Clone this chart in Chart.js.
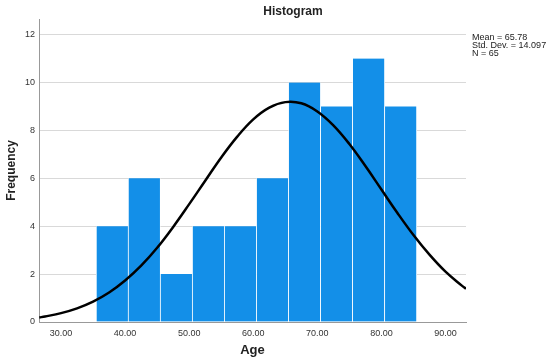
<!DOCTYPE html>
<html>
<head>
<meta charset="utf-8">
<script src="https://cdn.jsdelivr.net/npm/chart.js@4/dist/chart.umd.min.js"></script>
<style>
  html, body { margin: 0; padding: 0; background: #fff; }
  #wrap { width: 550px; height: 362px; }
</style>
</head>
<body>
<div id="wrap"><canvas id="hist"></canvas></div>
<script>
// bin centres (bins of width 5, from 35.5 to 85.5)
const binCenters = [38, 43, 48, 53, 58, 63, 68, 73, 78, 83];
const frequency = [4, 6, 2, 4, 4, 6, 10, 9, 11, 9];

// normal curve
const curveX = [26.6, 27.5, 30, 32.5, 35, 37.5, 40, 42.5, 45, 47.5, 50, 52.5, 55, 57.5, 60, 62.5, 65,
                67.5, 70, 72.5, 75, 77.5, 80, 82.5, 85, 87.5, 90, 92.5, 93.2];
const curveY = [0.19, 0.23, 0.37, 0.57, 0.85, 1.23, 1.73, 2.35, 3.10, 3.97, 4.92, 5.90, 6.87, 7.74, 8.46, 8.95, 9.18,
                9.13, 8.79, 8.21, 7.43, 6.51, 5.53, 4.55, 3.63, 2.81, 2.10, 1.53, 1.39];

const xTicks = [30, 40, 50, 60, 70, 80, 90];
const yTicks = [0, 2, 4, 6, 8, 10, 12];

const statLines = ['Mean = 65.78', 'Std. Dev. = 14.097', 'N = 65'];

const FONT = "'Liberation Sans', Arial, sans-serif";

const textPlugin = {
  id: 'texts',
  afterDraw(chart) {
    const ctx = chart.ctx;
    ctx.save();
    ctx.fillStyle = '#222';
    ctx.font = 'bold 12px ' + FONT;
    ctx.textAlign = 'center';
    ctx.textBaseline = 'middle';
    ctx.fillText('Histogram', 293, 12);
    ctx.font = '9px ' + FONT;
    ctx.textAlign = 'left';
    statLines.forEach((t, i) => ctx.fillText(t, 472, 38 + i * 8));
    ctx.restore();
  }
};

new Chart(document.getElementById('hist'), {
  data: {
    datasets: [{
      type: 'line',
      order: 0,
      data: curveX.map((x, i) => ({x: x, y: curveY[i]})),
      borderColor: '#000',
      borderWidth: 2.5,
      pointRadius: 0,
      tension: 0.4,
      fill: false
    }, {
      type: 'bar',
      order: 1,
      data: binCenters.map((x, i) => ({x: x, y: frequency[i]})),
      backgroundColor: '#138fe8',
      borderColor: '#fff',
      borderWidth: {left: 0.75, right: 0.75, top: 0, bottom: 0},
      borderSkipped: false,
      barPercentage: 1,
      categoryPercentage: 1
    }]
  },
  options: {
    responsive: true,
    maintainAspectRatio: false,
    animation: false,
    layout: { padding: {left: 0, right: 84, top: 19, bottom: 0} },
    plugins: {
      legend: { display: false },
      tooltip: { enabled: false },
      title: { display: false }
    },
    scales: {
      x: {
        type: 'linear',
        min: 26.56,
        max: 93.2,
        offset: false,
        afterFit: s => { s.height = 40; },
        afterBuildTicks: s => { s.ticks = xTicks.map(v => ({value: v})); },
        grid: { display: false, drawTicks: false },
        border: { display: true, color: '#999', width: 1 },
        ticks: {
          padding: 6,
          color: '#333',
          font: { family: FONT, size: 9 },
          maxRotation: 0,
          callback: v => v.toFixed(2)
        },
        title: {
          display: true,
          text: 'Age',
          color: '#222',
          font: { family: FONT, size: 13, weight: 'bold' },
          padding: {top: 4, bottom: 4}
        }
      },
      y: {
        min: 0,
        max: 12.65,
        afterFit: s => { s.width = 39; },
        afterBuildTicks: s => { s.ticks = yTicks.map(v => ({value: v})); },
        grid: { color: '#d9d9d9', lineWidth: 1, drawTicks: false },
        border: { display: true, color: '#999', width: 1 },
        ticks: {
          padding: 4,
          color: '#333',
          font: { family: FONT, size: 9 }
        },
        title: {
          display: true,
          text: 'Frequency',
          color: '#222',
          font: { family: FONT, size: 12, weight: 'bold' },
          padding: {top: 4, bottom: 4}
        }
      }
    }
  },
  plugins: [textPlugin]
});
</script>
</body>
</html>
